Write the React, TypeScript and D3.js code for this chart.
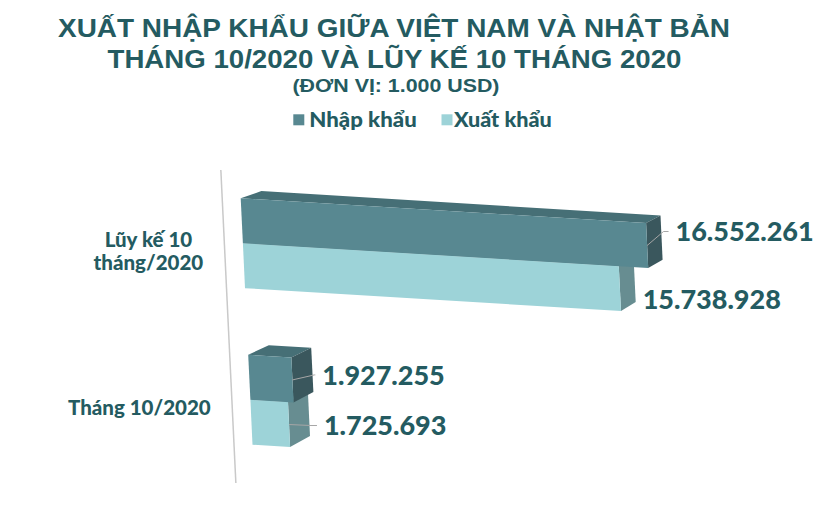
import React from 'react'
import * as d3 from 'd3'

// data
const categories = ['Lũy kế 10 tháng/2020', 'Tháng 10/2020']
const categoryLines = [['Lũy kế 10', 'tháng/2020'], ['Tháng 10/2020']]
const seriesNames = ['Nhập khẩu', 'Xuất khẩu']
const importValues = [16552261, 1927255]
const exportValues = [15738928, 1725693]
const titleLines = ['XUẤT NHẬP KHẨU GIỮA VIỆT NAM VÀ NHẬT BẢN', 'THÁNG 10/2020 VÀ LŨY KẾ 10 THÁNG 2020']
const unitLabel = '(ĐƠN VỊ: 1.000 USD)'

const W = 820
const H = 512
const TEXT = '#245b61'
const FUTURA = 'Lato, "Noto Sans", sans-serif'
const ARIAL = '"Liberation Sans", Arial, sans-serif'

const colors: Record<string, { front: string; top: string; side: string }> = {
  'Nhập khẩu': { front: '#588891', top: '#466f76', side: '#3a575d' },
  'Xuất khẩu': { front: '#9dd3d8', top: '#7fb3b8', side: '#678d91' }
}

// label placement relative to the end of each bar [category][series]
const labelLayout = [
  [{ dx: 14, dy: -14, leader: true }, { dx: 8, dy: 11, leader: false }],
  [{ dx: 10, dy: -5, leader: true }, { dx: 15, dy: 1, leader: true }]
]

const fmt = d3.formatLocale({ decimal: ',', thousands: '.', grouping: [3], currency: ['', ''] }).format(',d')

const measure = (() => {
  let ctx: CanvasRenderingContext2D | null = null
  return (text: string, font: string) => {
    if (!ctx) ctx = document.createElement('canvas').getContext('2d')
    if (!ctx) return text.length * 10
    ctx.font = font
    return ctx.measureText(text).width
  }
})()

type Pt = [number, number]

export default function App() {
  const yScale = d3.scaleBand<string>().domain(categories).range([167, 476]).paddingInner(0.426).paddingOuter(0.2)
  const sScale = d3.scaleBand<string>().domain(seriesNames).range([0, yScale.bandwidth()])
  const xScale = d3.scaleLinear().domain([0, 17000000]).range([0, 416.3])

  // pseudo perspective
  const X0 = 240.7
  const Y0 = 198.3
  const VP: Pt = [1575, -266]
  const DEPTH = 0.0155
  const xLeft = (y: number) => X0 + 0.048 * (y - Y0)
  const project = (v: number, y: number, yc: number): Pt => {
    const u = xScale(v) * (1 - 0.00055 * (yc - 221))
    return [xLeft(y) + u, y + 0.061 * u]
  }
  const back = (p: Pt): Pt => [p[0] + DEPTH * (VP[0] - p[0]), p[1] + DEPTH * (VP[1] - p[1])]
  const poly = (pts: Pt[]) => 'M' + pts.map(p => p[0].toFixed(1) + ',' + p[1].toFixed(1)).join('L') + 'Z'

  const valuesBySeries = [importValues, exportValues]

  const bars: JSX.Element[] = []
  const labels: JSX.Element[] = []
  categories.forEach((cat, ci) => {
    // draw lower series (export) first so the upper bar covers its top face
    ;[1, 0].forEach(si => {
      const name = seriesNames[si]
      const v = valuesBySeries[si][ci]
      const y0 = yScale(cat)! + sScale(name)!
      const y1 = y0 + sScale.bandwidth()
      const yc = (y0 + y1) / 2
      const A = project(0, y0, yc)
      const B = project(v, y0, yc)
      const C = project(v, y1, yc)
      const D = project(0, y1, yc)
      const c = colors[name]
      bars.push(
        <g key={`${ci}-${si}`}>
          <path d={poly([A, B, back(B), back(A)])} fill={c.top} />
          <path d={poly([B, back(B), back(C), C])} fill={c.side} />
          <path d={poly([A, B, C, D])} fill={c.front} />
        </g>
      )
      const lay = labelLayout[ci][si]
      const mid: Pt = [(B[0] + C[0]) / 2, (B[1] + C[1]) / 2]
      const backX = (back(B)[0] + back(C)[0]) / 2
      const lx = backX + lay.dx
      const ly = mid[1] + lay.dy
      if (lay.leader) {
        labels.push(
          <polyline
            key={`l${ci}-${si}`}
            points={`${mid[0]},${mid[1]} ${backX + 2},${ly} ${lx - 7},${ly}`}
            fill="none"
            stroke="#a6a6a6"
            strokeWidth={1}
          />
        )
      }
      labels.push(
        <text key={`t${ci}-${si}`} x={lx} y={ly} dy="0.36em" fill={TEXT} fontFamily={FUTURA} fontWeight={900} fontSize={27}>
          {fmt(v)}
        </text>
      )
    })
  })

  // axis line follows the slanted left edge
  const [ya, yb] = yScale.range()
  const axisX = (y: number) => xLeft(y) - 18.5

  const catFont = `900 20.5px ${FUTURA}`
  const catLabels = categories.map((cat, ci) => {
    const lines = categoryLines[ci]
    const cy = yScale(cat)! + yScale.bandwidth() / 2 + 8
    const widest = d3.max(lines, l => measure(l, catFont)) ?? 0
    const cx = axisX(cy) - 21.5 - widest / 2
    const lh = 22.7
    const first = cy - ((lines.length - 1) * lh) / 2 + 7
    return (
      <text key={cat} textAnchor="middle" fill={TEXT} fontFamily={FUTURA} fontWeight={900} fontSize={20.5}>
        {lines.map((l, i) => (
          <tspan key={i} x={cx} y={first + i * lh}>
            {l}
          </tspan>
        ))}
      </text>
    )
  })

  const legendItems = [
    { name: seriesNames[0], x: 293.3, tx: 309.3, tw: 107.4 },
    { name: seriesNames[1], x: 441.5, tx: 454, tw: 97.7 }
  ]

  return (
    <svg width={W} height={H} style={{ position: 'absolute', left: 0, top: 0, background: '#fff' }}>
      <text x={394} y={36.7} textAnchor="middle" fill={TEXT} fontFamily={ARIAL} fontWeight={700} fontSize={25} textLength={672} lengthAdjust="spacingAndGlyphs">
        {titleLines[0]}
      </text>
      <text x={394.5} y={67.7} textAnchor="middle" fill={TEXT} fontFamily={ARIAL} fontWeight={700} fontSize={25} textLength={574} lengthAdjust="spacingAndGlyphs">
        {titleLines[1]}
      </text>
      <text x={396} y={91.7} textAnchor="middle" fill={TEXT} fontFamily={ARIAL} fontWeight={700} fontSize={18.5} textLength={207} lengthAdjust="spacingAndGlyphs">
        {unitLabel}
      </text>

      {legendItems.map(it => (
        <g key={it.name}>
          <rect x={it.x} y={114.3} width={11} height={11} fill={colors[it.name].front} />
          <text x={it.tx} y={126.7} fill={TEXT} fontFamily={FUTURA} fontWeight={900} fontSize={20} textLength={it.tw} lengthAdjust="spacingAndGlyphs">
            {it.name}
          </text>
        </g>
      ))}

      <line x1={axisX(ya + 3)} y1={ya + 3} x2={axisX(yb + 7)} y2={yb + 7} stroke="#c9c9c9" strokeWidth={1.5} />

      {catLabels}
      {bars}
      {labels}
    </svg>
  )
}
